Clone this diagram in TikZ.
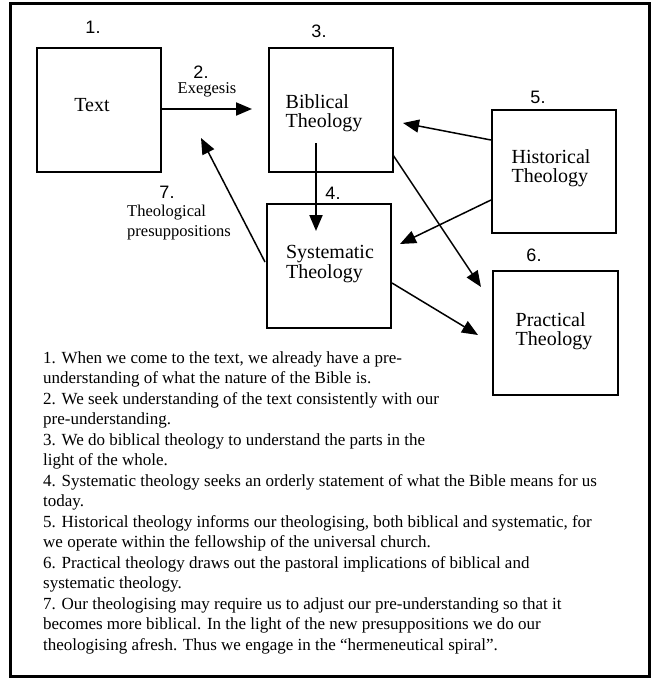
\documentclass[tikz,border=0pt]{standalone}
\usepackage{fontspec}
\setmainfont{Liberation Serif}
\newfontfamily\numfont{Liberation Sans}
\usetikzlibrary{arrows.meta,calc}
\begin{document}
\begin{tikzpicture}[x=1pt,y=-1pt,
 box/.style={draw,line width=2pt,minimum width=124pt,minimum height=124pt,inner sep=0},
 lbl/.style={font=\fontsize{20}{19.5}\selectfont,align=left,inner sep=0},
 num/.style={font=\numfont\fontsize{18}{18}\selectfont,inner sep=0},
 small/.style={font=\fontsize{16.5}{20}\selectfont,align=left,inner sep=0},
 notes/.style={font=\fontsize{17}{20.5}\selectfont,align=left,inner sep=0},
 arr/.style={line width=1.5pt,-{Triangle[length=16pt,width=13pt]}}]
\useasboundingbox (0,0) rectangle (659,681);
\node[draw,line width=3pt,minimum width=639pt,minimum height=673pt,inner sep=0] (frame) at (329.5,339.5) {};
% boxes
\node[box] (text) at (99,110) {};
\node[box] (bib) at (331,110) {};
\node[box] (sys) at (329,266) {};
\node[box,minimum height=123pt] (hist) at (554,171.5) {};
\node[box,minimum width=125pt] (prac) at (555.5,333) {};
% box labels
\node[lbl] (textl) at (92,105) {Text};
\node[lbl] (bibl) at (324,113) {Biblical\\Theology};
\node[lbl] (sysl) at (330,264) {Systematic\\Theology};
\node[lbl] (histl) at (551,168) {Historical\\Theology};
\node[lbl] (pracl) at (554,331) {Practical\\Theology};
% numbers
\node[num] (n1) at (93,27) {1.};
\node[num] (n2) at (201,72) {2.};
\node[num] (n3) at (319,31) {3.};
\node[num] (n4) at (333,193) {4.};
\node[num] (n5) at (538,97) {5.};
\node[num] (n6) at (534,255) {6.};
\node[num] (n7) at (167,192) {7.};
\node[small] (exeg) at (207,90) {Exegesis};
\node[small,anchor=north west] (presup) at (127,205) {Theological\\presuppositions};
% connectors
\coordinate (c7) at (201,138);
\draw[arr,line width=2pt,shorten >=16pt] ([yshift=1pt]text.east) -- ([yshift=1pt]bib.west);
\draw[arr,line width=2pt] ($(bib.center)+(-15,33)$) -- ($(sys.north)+(-13,28)$);
\draw[arr] ($(sys.west)+(-1,-4)$) -- (c7);
\draw[arr] ([yshift=31.5pt]hist.west) -- ($(bib.east)+(9,13)$);
\draw[arr] ([yshift=-28.5pt]hist.west) -- ($(sys.east)+(8,-22)$);
\draw[arr] ($(bib.east)+(-1,45)$) -- ($(prac.west)+(-11,-46)$);
\draw[arr] ($(sys.east)+(0,17)$) -- ($(prac.west)+(-14,2)$);
% notes
\node[notes,anchor=north west] (notes) at (43,351) {1. When we come to the text, we already have a pre-\\
understanding of what the nature of the Bible is.\\
2. We seek understanding of the text consistently with our\\
pre-understanding.\\
3. We do biblical theology to understand the parts in the\\
light of the whole.\\
4. Systematic theology seeks an orderly statement of what the Bible means for us\\
today.\\
5. Historical theology informs our theologising, both biblical and systematic, for\\
we operate within the fellowship of the universal church.\\
6. Practical theology draws out the pastoral implications of biblical and\\
systematic theology.\\
7. Our theologising may require us to adjust our pre-understanding so that it\\
becomes more biblical. In the light of the new presuppositions we do our\\
theologising afresh. Thus we engage in the \textquotedblleft hermeneutical spiral\textquotedblright.};
\end{tikzpicture}
\end{document}
